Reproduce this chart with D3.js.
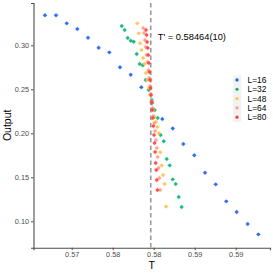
<!DOCTYPE html>
<html>
<head>
<meta charset="utf-8">
<script src="https://cdn.jsdelivr.net/npm/d3@7"></script>
<style>
  body { margin: 0; background: #fff; }
  svg { display: block; font-family: "Liberation Sans", Arial, sans-serif; }
</style>
</head>
<body>
<div id="chart"></div>
<script>
// series labels and colours
let sizes = ["L=16", "L=32", "L=48", "L=64", "L=80"];
let colors = ["#1a5ff0", "#00b377", "#ffc04d", "#ff9c80", "#ff3b3b"];

// T values per series
let tL16 = [0.57174, 0.57309, 0.57439, 0.57568, 0.57699, 0.57829, 0.57959, 0.58089, 0.58220, 0.58349, 0.58479,
            0.58605, 0.58732, 0.58861, 0.58995, 0.59126, 0.59256, 0.59385, 0.59512, 0.59646, 0.59776];
let yL16 = [0.3341, 0.3341, 0.3250, 0.3185, 0.3086, 0.2973, 0.2920, 0.2750, 0.2666, 0.2523, 0.2344,
            0.2162, 0.2055, 0.1878, 0.1750, 0.1552, 0.1420, 0.1227, 0.1106, 0.0969, 0.0852];

let tL32 = [0.58110, 0.58146, 0.58183, 0.58220, 0.58256, 0.58293, 0.58329, 0.58366, 0.58402, 0.58439, 0.58476,
            0.58512, 0.58549, 0.58585, 0.58622, 0.58659, 0.58695, 0.58732, 0.58768, 0.58805, 0.58841];
let yL32 = [0.3219, 0.3174, 0.3083, 0.3052, 0.3041, 0.2901, 0.2788, 0.2773, 0.2606, 0.2493, 0.2378,
            0.2265, 0.2174, 0.1981, 0.1909, 0.1708, 0.1636, 0.1477, 0.1424, 0.1276, 0.1162];

let tL48 = [0.58300, 0.58317, 0.58335, 0.58352, 0.58370, 0.58388, 0.58405, 0.58422, 0.58440, 0.58457, 0.58476,
            0.58493, 0.58510, 0.58528, 0.58545, 0.58562, 0.58580, 0.58598, 0.58615, 0.58633, 0.58650];
let yL48 = [0.3250, 0.3136, 0.3023, 0.2947, 0.2856, 0.2788, 0.2685, 0.2606, 0.2515, 0.2435, 0.2356,
            0.2265, 0.2185, 0.2128, 0.2072, 0.2000, 0.1784, 0.1636, 0.1526, 0.1424, 0.1168];

let tL64 = [0.58372, 0.58382, 0.58393, 0.58403, 0.58413, 0.58424, 0.58434, 0.58445, 0.58455, 0.58465, 0.58476,
            0.58486, 0.58496, 0.58507, 0.58517, 0.58528, 0.58538, 0.58548, 0.58559, 0.58569, 0.58579];
let yL64 = [0.3197, 0.3140, 0.3060, 0.2981, 0.2890, 0.2810, 0.2719, 0.2628, 0.2538, 0.2447, 0.2367,
            0.2288, 0.2197, 0.2117, 0.2026, 0.1924, 0.1833, 0.1731, 0.1606, 0.1492, 0.1356];

let tL80 = [0.58406, 0.58413, 0.58420, 0.58427, 0.58434, 0.58441, 0.58448, 0.58455, 0.58462, 0.58468, 0.58476,
            0.58483, 0.58489, 0.58496, 0.58504, 0.58511, 0.58517, 0.58524, 0.58532, 0.58538, 0.58545];
let yL80 = [0.3174, 0.3117, 0.3038, 0.2969, 0.2890, 0.2799, 0.2697, 0.2606, 0.2515, 0.2435, 0.2356,
            0.2265, 0.2174, 0.2083, 0.1981, 0.1890, 0.1788, 0.1663, 0.1583, 0.1469, 0.1356];

let xTicks = [0.575, 0.580, 0.585, 0.590, 0.595];
let xTickLabels = ["0.57", "0.58", "0.58", "0.59", "0.59"];
let yTicks = [0.10, 0.15, 0.20, 0.25, 0.30];
let tCrit = 0.58464;
let tCritLabel = "T' = 0.58464(10)";

let allT = [tL16, tL32, tL48, tL64, tL80];
let allY = [yL16, yL32, yL48, yL64, yL80];

let width = 273, height = 273;
let plotLeft = 33.5, plotRight = 270, plotTop = 3, plotBottom = 247.7;

let svg = d3.select("#chart").append("svg")
    .attr("width", width)
    .attr("height", height);

let x = d3.scaleLinear().domain([0.570341, 0.599183]).range([plotLeft, plotRight]);
let y = d3.scaleLinear().domain([0.0700, 0.3481]).range([plotBottom, plotTop]);

// axes
let xAxis = svg.append("g")
    .attr("transform", "translate(0," + plotBottom + ")")
    .call(d3.axisBottom(x).tickValues(xTicks).tickSize(2.5).tickPadding(2)
        .tickFormat((d, i) => xTickLabels[i]));
let yAxis = svg.append("g")
    .attr("transform", "translate(" + plotLeft + ",0)")
    .call(d3.axisLeft(y).tickValues(yTicks).tickSize(2.5).tickPadding(2)
        .tickFormat(d3.format(".2f")));

[xAxis, yAxis].forEach(function(a) {
    a.select(".domain").attr("stroke", "#4d4d4d").attr("stroke-width", 1.1);
    a.selectAll(".tick line").attr("stroke", "#4d4d4d");
    a.selectAll(".tick text")
        .attr("fill", "#4d4d4d")
        .style("font-size", "7.3px")
        .style("font-family", "Liberation Sans, Arial, sans-serif");
});

// critical temperature
svg.append("line")
    .attr("x1", x(tCrit)).attr("x2", x(tCrit))
    .attr("y1", plotTop).attr("y2", plotBottom)
    .attr("stroke", "#9a9a9a")
    .attr("stroke-width", 1.6)
    .attr("stroke-dasharray", "4.5,3");

svg.append("text")
    .attr("x", x(tCrit) + 7)
    .attr("y", 39.5)
    .style("font-size", "9.3px")
    .attr("fill", "#000")
    .text(tCritLabel);

// points
allT.forEach(function(ts, s) {
    let pts = ts.map((t, i) => ({t: t, v: allY[s][i]}));
    let g = svg.append("g");
    g.selectAll("circle")
        .data(pts)
        .enter()
        .append("circle")
        .attr("cx", d => x(d.t))
        .attr("cy", d => y(d.v))
        .attr("r", 1.7)
        .attr("fill", colors[s])
        .attr("fill-opacity", 0.85);
    g.selectAll("path")
        .data(pts)
        .enter()
        .append("path")
        .attr("d", function(d) {
            let cx = x(d.t), cy = y(d.v);
            return "M" + (cx - 2.4) + "," + cy + "H" + (cx + 2.4) +
                   "M" + cx + "," + (cy - 2.4) + "V" + (cy + 2.4);
        })
        .attr("stroke", colors[s])
        .attr("stroke-opacity", 0.4)
        .attr("stroke-width", 0.8);
});

// axis titles
svg.append("text")
    .attr("transform", "translate(10.5," + ((plotTop + plotBottom) / 2) + ") rotate(-90)")
    .style("text-anchor", "middle")
    .style("font-size", "10.5px")
    .text("Output");

svg.append("text")
    .attr("x", (plotLeft + plotRight) / 2)
    .attr("y", 268.5)
    .style("text-anchor", "middle")
    .style("font-size", "10.5px")
    .text("T");

// legend
let legY0 = 75.3, legStep = 9.3;
let legend = svg.append("g");
legend.append("rect")
    .attr("x", 232.8).attr("y", legY0)
    .attr("width", 8.4).attr("height", legStep * sizes.length)
    .attr("fill", "#f2f2f2");
sizes.forEach(function(name, i) {
    let cy = legY0 + legStep * i + legStep / 2;
    legend.append("circle")
        .attr("cx", 237).attr("cy", cy)
        .attr("r", 1.6)
        .attr("fill", colors[i]);
    legend.append("text")
        .attr("x", 247.5).attr("y", cy + 3)
        .style("font-size", "8.4px")
        .text(name);
});
</script>
</body>
</html>
